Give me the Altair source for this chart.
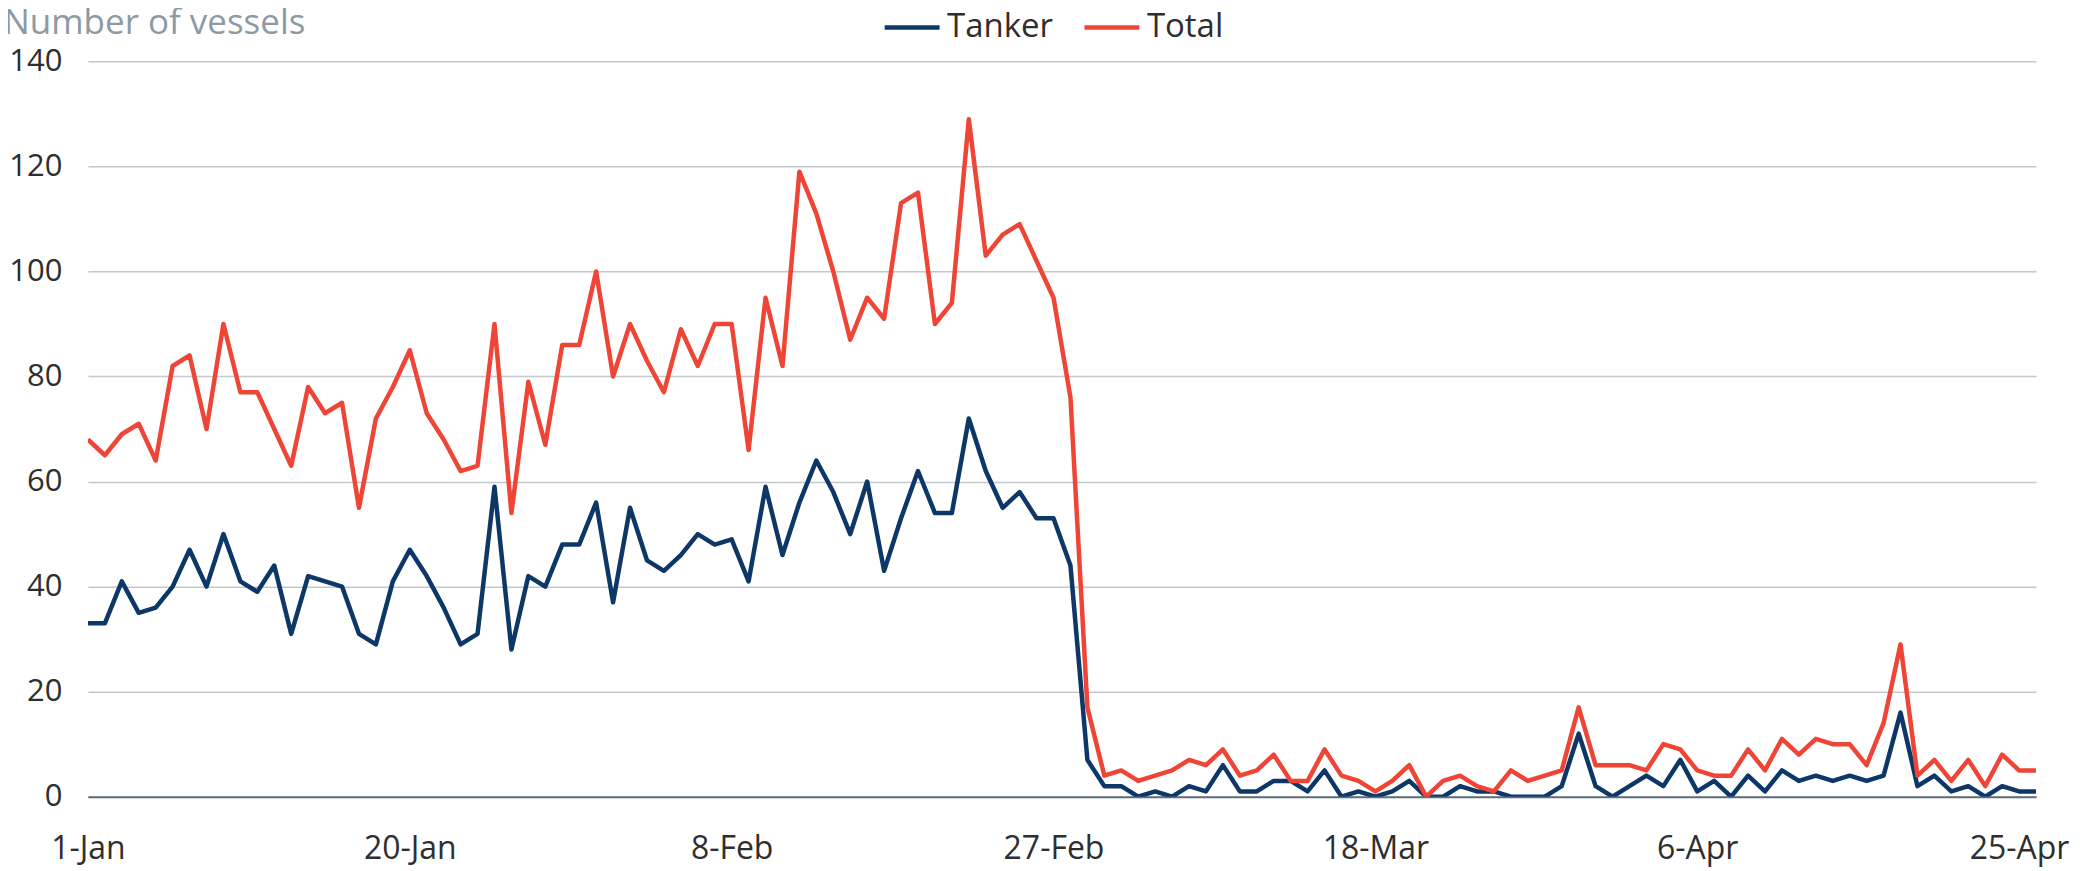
import altair as alt
import pandas as pd

# Daily dates, 1-Jan to 26-Apr (non-leap year)
DATES = pd.date_range("2026-01-01", "2026-04-26", freq="D").strftime("%Y-%m-%dT00:00:00").tolist()

TANKER = [
    33, 33, 41, 35, 36, 40, 47, 40, 50, 41,
    39, 44, 31, 42, 41, 40, 31, 29, 41, 47,
    42, 36, 29, 31, 59, 28, 42, 40, 48, 48,
    56, 37, 55, 45, 43, 46, 50, 48, 49, 41,
    59, 46, 56, 64, 58, 50, 60, 43, 53, 62,
    54, 54, 72, 62, 55, 58, 53, 53, 44, 7,
    2, 2, 0, 1, 0, 2, 1, 6, 1, 1,
    3, 3, 1, 5, 0, 1, 0, 1, 3, 0,
    0, 2, 1, 1, 0, 0, 0, 2, 12, 2,
    0, 2, 4, 2, 7, 1, 3, 0, 4, 1,
    5, 3, 4, 3, 4, 3, 4, 16, 2, 4,
    1, 2, 0, 2, 1, 1,
]

TOTAL = [
    68, 65, 69, 71, 64, 82, 84, 70, 90, 77,
    77, 70, 63, 78, 73, 75, 55, 72, 78, 85,
    73, 68, 62, 63, 90, 54, 79, 67, 86, 86,
    100, 80, 90, 83, 77, 89, 82, 90, 90, 66,
    95, 82, 119, 111, 100, 87, 95, 91, 113, 115,
    90, 94, 129, 103, 107, 109, 102, 95, 76, 17,
    4, 5, 3, 4, 5, 7, 6, 9, 4, 5,
    8, 3, 3, 9, 4, 3, 1, 3, 6, 0,
    3, 4, 2, 1, 5, 3, 4, 5, 17, 6,
    6, 6, 5, 10, 9, 5, 4, 4, 9, 5,
    11, 8, 11, 10, 10, 6, 14, 29, 4, 7,
    3, 7, 2, 8, 5, 5,
]

SERIES = ["Tanker", "Total"]
COLORS = ["#0c3767", "#ee4536"]
X_TICKS = [(1, 1), (1, 20), (2, 8), (2, 27), (3, 18), (4, 6), (4, 25)]
Y_TICKS = [0, 20, 40, 60, 80, 100, 120, 140]

rows = []
for name, vals in zip(SERIES, [TANKER, TOTAL]):
    for d, v in zip(DATES, vals):
        rows.append({"date": d, "series": name, "value": v})
df = pd.DataFrame(rows)

FONT = "Open Sans"

x_axis = alt.Axis(
    values=[alt.DateTime(year=2026, month=m, date=d) for m, d in X_TICKS],
    format="%-d-%b",
    title=None,
    grid=False,
    ticks=False,
    domain=True,
    domainColor="#5f6e7a",
    domainWidth=2,
    labelFont=FONT,
    labelFontSize=32,
    labelColor="#2e2e2e",
    labelPadding=37,
    labelOverlap=False,
    labelFlush=False,
)

y_axis = alt.Axis(
    values=Y_TICKS,
    title="Number of vessels",
    titleAngle=0,
    titleAlign="left",
    titleBaseline="alphabetic",
    titleX=-85,
    titleY=-28,
    titleFont=FONT,
    titleFontSize=35,
    titleFontWeight="normal",
    titleColor="#8d9aa4",
    grid=True,
    gridColor="#c2c8ce",
    gridWidth=1.5,
    domain=False,
    ticks=False,
    labelFont=FONT,
    labelFontSize=31,
    labelColor="#2e2e2e",
    labelPadding=26,
)

chart = (
    alt.Chart(df)
    .mark_line(strokeWidth=4.5, strokeJoin="round", clip=True)
    .encode(
        x=alt.X(
            "date:T",
            scale=alt.Scale(
                domain=[
                    alt.DateTime(year=2026, month=1, date=1),
                    alt.DateTime(year=2026, month=4, date=26),
                ]
            ),
            axis=x_axis,
        ),
        y=alt.Y("value:Q", scale=alt.Scale(domain=[0, 140], nice=False), axis=y_axis),
        color=alt.Color(
            "series:N",
            scale=alt.Scale(domain=SERIES, range=COLORS),
            legend=alt.Legend(
                orient="none",
                legendX=795,
                legendY=-64,
                direction="horizontal",
                title=None,
                symbolType="stroke",
                symbolSize=3025,
                symbolStrokeWidth=4.5,
                labelFont=FONT,
                labelFontSize=33,
                labelColor="#2e2e2e",
                labelOffset=5,
                columnPadding=21,
                padding=0,
            ),
        ),
    )
    .properties(
        width=1950,
        height=736,
        autosize=alt.AutoSizeParams(type="none"),
        padding={"left": 80, "top": 53, "right": 36, "bottom": 74},
        background="white",
    )
    .configure_view(stroke=None)
)

chart.save("out.html", embed_options={"renderer": "svg", "actions": False})
